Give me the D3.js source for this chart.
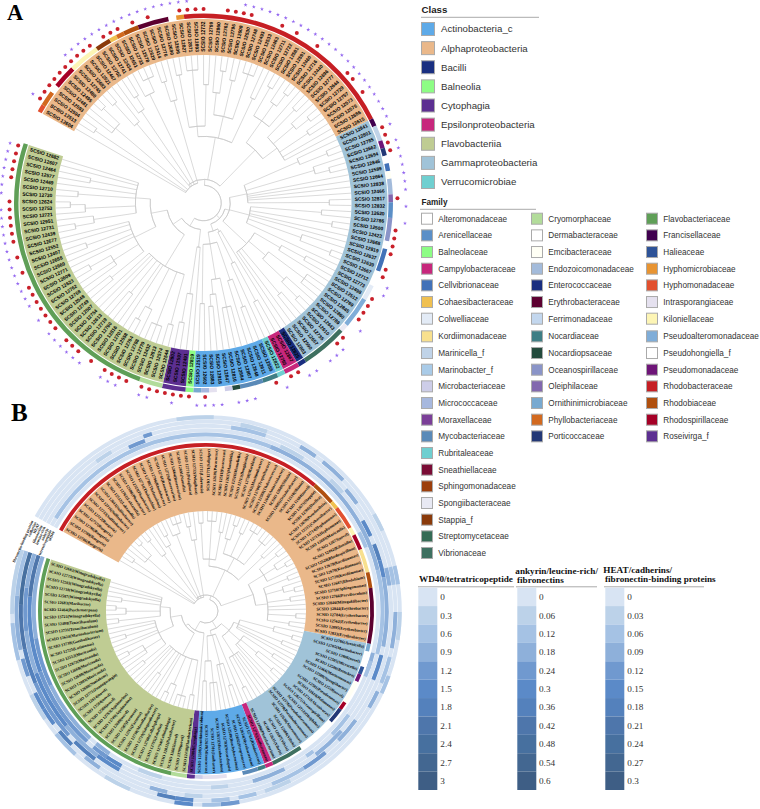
<!DOCTYPE html>
<html><head><meta charset="utf-8">
<script src="https://cdn.jsdelivr.net/npm/d3@7"></script>
<style>html,body{margin:0;background:#fff}svg{display:block}</style></head>
<body><svg id="c" width="760" height="809"></svg>
<script>
// ---------- data ----------
const classNames=["Actinobacteria_c","Alphaproteobacteria","Bacilli","Balneolia","Cytophagia","Epsilonproteobacteria","Flavobacteriia","Gammaproteobacteria","Verrucomicrobiae"];
const classColors=["#5eaae8","#eab88a","#1a2f80","#8dfd85","#5c2f91","#c7277c","#bfcc93","#a0c3d8","#6fcfd0"];
const familyNames=["Alteromonadaceae","Arenicellaceae","Balneolaceae","Campylobacteraceae","Cellvibrionaceae","Cohaesibacteraceae","Colwelliaceae","Kordiimonadaceae","Marinicella_f","Marinobacter_f","Microbacteriaceae","Micrococcaceae","Moraxellaceae","Mycobacteriaceae","Rubritaleaceae","Sneathiellaceae","Sphingomonadaceae","Spongiibacteraceae","Stappia_f","Streptomycetaceae","Vibrionaceae",
"Cryomorphaceae","Dermabacteraceae","Emcibacteraceae","Endozoicomonadaceae","Enterococcaceae","Erythrobacteraceae","Ferrimonadaceae","Nocardiaceae","Nocardiopsaceae","Oceanospirillaceae","Oleiphilaceae","Ornithinimicrobiaceae","Phyllobacteriaceae","Porticoccaceae",
"Flavobacteriaceae","Francisellaceae","Halieaceae","Hyphomicrobiaceae","Hyphomonadaceae","Intrasporangiaceae","Kiloniellaceae","Pseudoalteromonadaceae","Pseudohongiella_f","Pseudomonadaceae","Rhodobacteraceae","Rhodobiaceae","Rhodospirillaceae","Roseivirga_f"];
const familyColors=["#ffffff","#5b8fc7","#8dfd85","#c7277c","#4272b8","#f0c050","#e3ebf6","#f8e08e","#c0d3e8","#a9cbe8","#cdcde8","#a7b8de","#7b3f98","#5a8ab8","#6fcfd0","#7a0c35","#9c3f0c","#e8e9f3","#8a3a0a","#356b55","#3e7060",
"#b2dc9a","#ffffff","#fffff5","#a3bbdb","#1a2f80","#5c0030","#c3d7ee","#3f7e85","#234a3c","#8a94c8","#8268ae","#78a9d0","#d2691f","#233876",
"#5f9f57","#40004f","#2e5398","#e89432","#e2502f","#e5e1ef","#fdf5b5","#7fadd8","#ffffff","#6e1578","#c61f24","#b0500f","#a50026","#5c2f91"];
const familyColumnSizes=[21,14,14];

// panel A: clockwise leaf labels
const idsAlphaA=[12604,12513,12594,12593,12481,12495,12480,12745,12683,12521,12467,12702,12741,12434,12651,12733,12578,12629,12414,12776,12690,12506,12827,12871,12893,12732,12799,12860,12762,12796,12608,12530,12748,12493,12533,12463,12711,12722,12581,12591,12460,12716,12440,12696,12777,12644,12729,12757,12573,12576,12686,12615];
const idsGammaA=[12841,12801,12785,12662,12694,12846,12589,12664,12838,12466,12817,12832,12620,12786,12500,12423,12668,12819,12637,12639,12667,12712,12773,12498,12512,12769,12845,12860,12789,12643,12610,12735,12657,12590,12803];
const idsSmallA=[12825,12867,12793,12822];
const idsActinoA=[12555,12611,12648,12807,12884,12816,12847,12918,12883,12602,12519];
const idsBaseA=[12819,12491,12597,12802];
const idsFlavoA=[12682,12607,12464,12577,12469,12710,12730,12624,12753,12721,12951,12731,12439,12677,12552,12407,12688,12669,12771,12609,12623,12762,12768,12548,12749,12507,12754,12613,12719,12790,12816,12701,12558,12764,12788,12770,12432,12813,12574,12544].reverse();
const classRunsA=[["Alphaproteobacteria",52],["Gammaproteobacteria",35],["Bacilli",1],["Epsilonproteobacteria",2],["Verrucomicrobiae",1],["Actinobacteria_c",11],["Balneolia",1],["Cytophagia",3],["Flavobacteriia",40]];
const familyRunsA=[["Hyphomonadaceae",1],["Phyllobacteriaceae",2],["Alteromonadaceae",1],["Rhodospirillaceae",3],["Kiloniellaceae",4],["Stappia_f",2],["Cohaesibacteraceae",1],["Phyllobacteriaceae",1],["Rhodobiaceae",2],["Erythrobacteraceae",4],["Dermabacteraceae",1],["Hyphomicrobiaceae",1],["Rhodobacteraceae",29],
["Francisellaceae",1],["Marinicella_f",2],["Pseudomonadaceae",1],["Porticoccaceae",1],["Alteromonadaceae",1],["Cellvibrionaceae",1],["Emcibacteraceae",1],["Endozoicomonadaceae",2],["Oleiphilaceae",1],["Arenicellaceae",2],["Oceanospirillaceae",3],["Dermabacteraceae",1],["Cellvibrionaceae",3],["Pseudohongiella_f",2],["Colwelliaceae",2],["Pseudoalteromonadaceae",4],["Spongiibacteraceae",1],["Vibrionaceae",6],
["Enterococcaceae",1],["Campylobacteraceae",2],["Rubritaleaceae",1],["Nocardiaceae",2],["Mycobacteriaceae",3],["Nocardiopsaceae",1],["Microbacteriaceae",1],["Dermabacteraceae",1],["Intrasporangiaceae",1],["Micrococcaceae",1],["Ornithinimicrobiaceae",1],["Balneolaceae",1],["Roseivirga_f",3],["Cryomorphaceae",3],["Flavobacteriaceae",37]];
const redDotLeaves=[1,2,3,4,5,6,7,8,9,10,12,13,14,16,18,22,23,24,25,28,29,30,31,35,37,40,45,46,48,53,54,55,56,62,66,67,68,69,71,72,75,76,77,78,81,82,88,89,91,100,102,103,104,105,106,107,108,110,111,112,113,115,117,118,119,121,122,123,124,125,126,127,129,131,133,134,135,136,137,138,141,142,143,144,145];
const starLeaves=[1,7,8,9,10,11,12,13,14,15,16,17,18,19,20,21,22,23,30,31,32,33,34,35,36,37,38,39,40,41,42,43,44,45,46,47,48,49,50,51,52,53,55,56,57,58,59,60,61,63,65,73,74,79,82,83,84,86,87,90,94,95,96,98,99,100,101,104,107,108,111,112,113,116,117,118,119,120,121,123,125,126,127,128,129,130,131,132,133,134,135,136,137,139,140,141,142,143,144,145];
const treeA="((("+"*,(*,*)88,(*,*,(*,*)93)78,((*,*)90,*)70,(*,(*,*)85)75,(*,(*,*,*)92)82,((*,*)86,*)72)14,"
 +"(((*,*)88,(*,*,*)90,(*,*)80)52,((*,(*,*)90)75,(*,*)85,(*,*,*)92)60,(*,*)78)45,"
 +"(((*,*)90,(*,(*,*)92)82,*)68,((*,*)88,(*,(*,*)91)80,(*,*)85,*,*)62)50)16,"
 +"((((*,(*,*)90)70,(*,(*,*)88)78,*,*,*,*,(*,*)85)30,((*,*)80,(*,*)88,*,*,(*,(*,*)92)70,*)32,(((*,*)78,*)60,((*,*,*)85,(*,(*,*)90)75)55,(*,*)80,*,*)40)18,"
 +"((*,((*,*)75,*)45)22,(((*,*)75,*)55,((*,*,*)72,(*,(*,*)70)62)52,(*,*)68)28)20)15,"
 +"((*,(*,(*,*)82)62)30,(((*,*)85,(*,*,*)88,(*,(*,*)90)80,*,*,(*,*)78,*,*,*)50,(((*,*)80,(*,*,(*,*)88)72,*,*,(*,*)84,*,*)52,(((*,*)88,*)75,(*,(*,*)90)80,(*,*)85,*,(*,*)78,*,*)46)36)25)18)12";

// panel B: clockwise leaf labels
const leavesAlphaB=["12706 Ruegeria","12709 Ruegeria","12796 Ruegeria","12757 Ruegeria","12722 Ruegeria","12733 Sulfitobacter","12716 Sulfitobacter","12641 Sulfitobacter","12512 Loktanella","12762 Loktanella","12698 Phaeobacter","12723 Phaeobacter","12734 Thalassobius","12788 Thalassobius","12796 Rhodobacter","12741 Roseobacter","12729 Roseovarius","12664 Roseovarius","12691 Nautella","12771 Pelagibaca","12732 Pelagibaca","12715 Labrenzia","12771 Salipiger","12610 Paracoccus","12511 Paracoccus","12637 Mameliella","12516 Mameliella","12713 Donghicola","12708 Maribius","12702 Maritimibacter","12706 Tropicibacter","12508 Thalassococcus","12640 Antarctobacter","12689 Shimia","12685 Octadecabacter","12510 Shimia","12684 novel genus","12673 Stappia","12700 Hoeflea","12670 Pseudovibrio","12515 Cohaesibacter","12714 Hyphomonas","12713 Hyphomonas","12603 Maricaulis","12673 novel genus","12492 Kiloniella","12520 Rhodospirillum","12679 Kordiimonas","12670 Kordiimonas","12729 Kordiimonas","12687 Rhodobium","12718 Sphingomonas","12766 Parvibaculum","12846 Mizugakiibacter","12844 Erythrobacter","12784 Erythrobacter","12562 Erythrobacter","12895 Erythrobacter","12833 Erythrobacter"];
const leavesGammaB=["12786 Arenicella","12705 Marinobacter","12806 novel genus","12505 Microcella","12506 Reinekea","12466 Marinomonas","12580 Spongiibacter","12558 novel genus","12581 Pseudomonas","12618 Halomonas","12712 Alcanivorax","12627 Oceanospirillum","12712 Oleiphilus","12576 Pseudoalteromonas","12770 Pseudoalteromonas","12630 Alteromonas","12680 Vibrio","12607 Vibrio","12635 Vibrio","12480 Photobacterium"];
const leavesActinoB=["12792 Sulfurimonas","12761 Rhodococcus","12654 Mycobacterium","12692 Streptomyces","12549 Brachybacterium","12703 Nocardiopsis","12611 Microbacterium","12701 Janibacter","12619 Micrococcus","12598 Ornithinimicrobium","12804 Cytophaga"];
const leavesFlavoB=["12682 Winogradskyella","12773 Winogradskyella","12503 Winogradskyella","12718 Winogradskyella","12587 Winogradskyella","12683 Maribacter","12464 Psychroserpens","13721 Winogradskyella","12408 Tenacibaculum","12731 Tenacibaculum","13624 Marinobacterium","13738 Gaetbulibacter","12725 Lutimonas","12552 Muricauda","12673 Muricauda","12668 Muricauda","12688 Muricauda","12803 Muricauda","12688 Nonlabens","12771 Zunongwangia","12614 novel genus","13584 novel genus","12506 novel genus","12763 Aquimarina","12749 Aquimarina","12689 novel genus","12507 Formosa","12761 Formosa","12730 Mesoflavibacter","12729 Salegentibacter","12768 Cellulophaga","12795 Zobellia","12794 Cellulophaga","12812 Polaribacter","12665 novel genus","13709 novel genus","12438 Flavobacterium"].reverse();
const classRunsB=[["Alphaproteobacteria",59],["Gammaproteobacteria",20],["Epsilonproteobacteria",1],["Actinobacteria_c",9],["Cytophagia",1],["Flavobacteriia",37]];
const familyRunsB=[["Rhodobacteraceae",37],["Rhodobiaceae",3],["Cohaesibacteraceae",1],["Hyphomonadaceae",3],["Kiloniellaceae",1],["Rhodospirillaceae",2],["Kordiimonadaceae",3],["Rhodobiaceae",2],["Erythrobacteraceae",7],
["Ornithinimicrobiaceae",1],["Dermabacteraceae",2],["Halieaceae",1],["Pseudomonadaceae",1],["Emcibacteraceae",3],["Rhodospirillaceae",1],["Porticoccaceae",2],["Alteromonadaceae",5],["Vibrionaceae",4],
["Campylobacteraceae",1],["Nocardiaceae",1],["Mycobacteriaceae",2],["Dermabacteraceae",2],["Intrasporangiaceae",3],["Microbacteriaceae",1],["Roseivirga_f",1],["Cryomorphaceae",2],["Flavobacteriaceae",35]];
const treeB="((("+"*,(*,*)88,(*,*,(*,*)93)78,((*,*)90,*)70,(*,(*,*)85)75,(*,(*,*,*)92)82,((*,*)86,*)72)14,"
 +"(((*,*)88,(*,*,*)90,(*,*)80)52,((*,(*,*)90)75,(*,*)85,(*,*,*)92,(*,*,*)88)60,(*,*)78)45,"
 +"(((*,*)90,(*,(*,*)92)82,*)68,((*,*)88,(*,(*,*)91)80,(*,*)85,*,*,(*,*)90,(*,*)84)62)50)16,"
 +"((((*,(*,*)90)70,(*,*)82,*,*)35,((*,*)80,(*,(*,*)88)66,*,*)45,(*,*,*,*,(*,*)85)52)30,"
 +"(*,((*,*)78,*,*)55,((*,*,*)72,(*,*)70)50)25)20,"
 +"(*,(((*,*)85,(*,*,*)88,(*,(*,*)90)80,*,*,(*,*)78,*,*,*)50,(((*,*)80,(*,*,(*,*)88)72,*,*,(*,*)84,*,*)52,((*,*)88,(*,(*,*)90)80,(*,*)85,*,*,*)46)36)25)22)12";
// heat tracks, outer to inner: [first leaf, number of leaves, legend level]
const heatTrack0=[[19,4,1],[44,2,1],[50,2,2],[55,3,1],[62,2,2],[84,2,4],[86,2,2],[89,2,5],[96,3,1],[103,3,2],[108,3,1],[115,4,2],[120,7,1]];
const heatTrack1=[[26,3,1],[33,2,3],[36,3,3],[50,2,2],[55,4,3],[60,3,2],[64,2,3],[78,3,1],[82,2,2],[85,2,2],[89,2,5],[91,2,6],[100,2,3],[104,2,6],[107,2,5],[109,2,5],[113,2,4],[116,6,3],[122,5,2]];
const heatTrack2=[[9,2,1],[15,1,4],[25,4,2],[40,2,3],[50,2,3],[68,3,3],[73,3,4],[76,4,2],[88,2,1],[92,2,3],[101,3,6],[105,7,4],[112,4,6],[116,5,7],[121,6,8]];
const heatTrack3=[[13,2,4],[31,3,1],[38,2,1],[44,2,5],[47,2,6],[49,2,5],[51,8,3],[60,3,5],[70,4,3],[98,3,5],[101,5,3],[106,7,5],[113,5,3],[118,5,4],[123,4,3]];
const heatTrack4=[[1,30,2],[30,20,3],[50,10,2],[68,3,2],[74,1,2],[78,4,3],[85,2,1],[98,3,5],[100,2,4],[103,10,4],[113,9,5],[122,5,7]];
const heatTrack5=[[45,2,2],[60,2,3],[61,2,2],[93,3,1],[100,2,3],[103,8,3],[111,6,4],[117,10,3]];
const heatTracks=[heatTrack0,heatTrack1,heatTrack2,heatTrack3,heatTrack4,heatTrack5];
const trackLabels=["fibronectin-binding proteins","cadherins","HEAT","fibronectins","leucine-rich","ankyrin","tetratricopeptide","WD40"];
const heatColors=["#d8e4f3","#bcd2e9","#a5c2e4","#8eb0da","#7099cf","#5b8ac8","#5481bc","#4e76ab","#47709f","#436791","#3e5e85"];
const legendWD=["0","0.3","0.6","0.9","1.2","1.5","1.8","2.1","2.4","2.7","3"];
const legendAnk=["0","0.06","0.12","0.18","0.24","0.3","0.36","0.42","0.48","0.54","0.6"];
const legendHeat=["0","0.03","0.06","0.09","0.12","0.15","0.18","0.21","0.24","0.27","0.3"];

// ---------- helpers ----------
const svg=d3.select("#c");
svg.append("rect").attr("width",760).attr("height",809).attr("fill","#fff");
const SANS="'Liberation Sans',Arial,sans-serif", SERIF="'Liberation Serif','Times New Roman',serif";
const rad=d=>d*Math.PI/180;
const classColor=d3.scaleOrdinal(classNames,classColors);
const familyColor=d3.scaleOrdinal(familyNames,familyColors);
const heatColor=d3.scaleOrdinal(d3.range(11),heatColors);
function parseNewick(s){let i=0;
  function node(){
    if(s[i]==="*"){i++;return {d:100};}
    i++;const children=[node()];
    while(s[i]===","){i++;children.push(node());}
    i++;let n="";while(i<s.length&&/[0-9.]/.test(s[i]))n+=s[i++];
    return {d:+n,children};
  }
  return node();
}
function drawTree(g,src,angle,radiusAtLeaf){
  const root=d3.hierarchy(parseNewick(src));
  const r=d3.scaleLinear([0,100],[0,radiusAtLeaf]);
  root.leaves().forEach((l,i)=>{l.a=angle(i+.5);});
  root.eachAfter(n=>{if(n.children){n.a=(n.children[0].a+n.children[n.children.length-1].a)/2;}});
  const arc=d3.arc();
  const radial=d3.lineRadial().angle(p=>p[0]).radius(p=>p[1]);
  root.descendants().forEach(n=>{
    if(!n.children)return;
    const R=r(n.data.d);
    g.append("path").attr("d",arc({innerRadius:R,outerRadius:R,startAngle:n.children[0].a,endAngle:n.children[n.children.length-1].a}));
    n.children.forEach(c=>g.append("path").attr("d",radial([[c.a,R],[c.a,r(c.data.d)]])));
  });
  g.attr("fill","none").attr("stroke","#c6c6c6").attr("stroke-width",.65);
  return root.leaves().length;
}
function runsToArcs(g,runs,angle,r0,r1,colorOf){
  const arc=d3.arc().innerRadius(r0).outerRadius(r1);
  let pos=0;
  runs.forEach(([name,n])=>{
    g.append("path").attr("d",arc({startAngle:angle(pos),endAngle:angle(pos+n)})).attr("fill",colorOf(name));
    pos+=n;
  });
}
function leafLabels(g,labels,angle,R,fontSize,font,weight){
  g.selectAll("text").data(labels).join("text")
   .attr("transform",(t,i)=>{const a=angle(i+.5)*180/Math.PI;
     return a<180&&a>=0?`rotate(${a-90}) translate(${R},0)`:`rotate(${a+90}) translate(${-R},0)`;})
   .attr("text-anchor",(t,i)=>{const a=angle(i+.5)*180/Math.PI;return a<180&&a>=0?"end":"start";})
   .attr("dy",".35em").attr("font-family",font).attr("font-size",fontSize).attr("font-weight",weight).attr("fill","#000")
   .text(t=>t);
}

// ---------- panel A ----------
const idsA=[...idsAlphaA,...idsGammaA,...idsSmallA,...idsActinoA,...idsBaseA,...idsFlavoA];
const angleA=d3.scaleLinear([0,idsA.length],[rad(-61),rad(288.4)]);
const A=svg.append("g").attr("transform","translate(203.5,203)");
runsToArcs(A.append("g"),classRunsA,angleA,148,184,classColor);
runsToArcs(A.append("g"),familyRunsA,angleA,185,189.5,familyColor);
drawTree(A.append("g"),treeA,angleA,148);
leafLabels(A.append("g"),idsA.map(d=>"SCSIO "+d),angleA,181.5,4.9,SANS,700);
const polar=(i,r)=>d3.pointRadial(angleA(i+.5),r);
A.append("g").selectAll("circle").data(redDotLeaves).join("circle")
 .attr("cx",d=>polar(d,194)[0]).attr("cy",d=>polar(d,194)[1]).attr("r",2).attr("fill","#c9202a");
const star=d3.symbol(d3.symbolStar,5);
A.append("g").selectAll("path").data(starLeaves).join("path")
 .attr("d",star).attr("transform",d=>`translate(${polar(d,202.5)})`).attr("fill","#9468f0");

// ---------- panel B ----------
const leavesB=[...leavesAlphaB,...leavesGammaB,...leavesActinoB,...leavesFlavoB];
const angleB=d3.scaleLinear([0,leavesB.length],[rad(-61),rad(288.4)]);
const B=svg.append("g").attr("transform","translate(206,611)");
const trackR=d3.scaleLinear([0,heatTracks.length],[196,170]);
heatTracks.forEach((runs,k)=>{
  const t=B.append("g");
  const arc=d3.arc().innerRadius(trackR(k+1)+.2).outerRadius(trackR(k)-.2);
  t.append("path").attr("d",arc({startAngle:angleB(0),endAngle:angleB(127)})).attr("fill",heatColor(0));
  runs.forEach(([s,n,l])=>t.append("path").attr("d",arc({startAngle:angleB(s),endAngle:angleB(s+n)})).attr("fill",heatColor(l)));
});
runsToArcs(B.append("g"),classRunsB,angleB,100,163.3,classColor);
runsToArcs(B.append("g"),familyRunsB,angleB,164.2,168,familyColor);
drawTree(B.append("g"),treeB,angleB,100);
leafLabels(B.append("g"),leavesB.map(d=>{const [id,g]=d.split(" ");return `SCSIO ${id}(${g})`;}),angleB,162,4.1,SERIF,700);
const fanR=d3.scalePoint(trackLabels,[196,172]);
B.append("g").selectAll("text").data(trackLabels).join("text")
 .attr("transform",d=>{const p=d3.pointRadial(rad(-62.5),fanR(d));return `translate(${p}) rotate(-66)`;})
 .attr("text-anchor","end").attr("dy",".35em").attr("font-family",SERIF).attr("font-size",3.8).attr("font-weight",700).text(d=>d);

// ---------- legends ----------
const L=svg.append("g").attr("font-family",SANS);
L.append("text").attr("x",421.5).attr("y",12.5).attr("font-size",9.7).attr("font-weight",700).attr("fill","#222").text("Class");
L.append("line").attr("x1",421).attr("x2",539).attr("y1",17.3).attr("y2",17.3).attr("stroke","#aaa");
const classY=d3.scaleLinear([0,8],[29,182]);
classNames.forEach((n,i)=>{
  L.append("rect").attr("x",421.5).attr("y",classY(i)-6.5).attr("width",13).attr("height",13).attr("fill",classColors[i]).attr("stroke","#aaa");
  L.append("text").attr("x",441).attr("y",classY(i)).attr("dy",".35em").attr("font-size",9.7).attr("fill","#333").text(n);
});
L.append("text").attr("x",421.5).attr("y",205).attr("font-size",8.2).attr("font-weight",700).attr("fill","#222").text("Family");
L.append("line").attr("x1",420).attr("x2",536).attr("y1",209.3).attr("y2",209.3).attr("stroke","#aaa");
const famCol=[{s:421.5,t:438.3},{s:531.5,t:548.3},{s:646.5,t:663.3}];
const famY=d3.scaleLinear([0,20],[218.7,552]);
let famStart=0;
familyColumnSizes.forEach((size,c)=>{
  d3.range(size).forEach(i=>{
    const k=famStart+i, y=famY(i)+(i>=7?1:0);
    L.append("rect").attr("x",famCol[c].s).attr("y",y-5.5).attr("width",11).attr("height",11).attr("fill",familyColors[k]).attr("stroke","#aaa");
    L.append("text").attr("x",famCol[c].t).attr("y",y).attr("dy",".35em").attr("font-size",8.2).attr("fill","#333").text(familyNames[k]);
  });
  famStart+=size;
});
const H=svg.append("g").attr("font-family",SERIF);
const levelY=d3.scaleBand(d3.range(11),[587.7,790]);
[{x:418.3,t:440.3,u:[418,514],labels:legendWD,title:[["WD40/tetratricopeptide",419,582]]},
 {x:517.3,t:539,u:[516,597],labels:legendAnk,title:[["ankyrin/leucine-rich/",515.3,574],["fibronectins",517,583]]},
 {x:605.3,t:627.3,u:[604,704],labels:legendHeat,title:[["HEAT/cadherins/",603.3,573],["fibronectin-binding proteins",605,582]]}].forEach(o=>{
  o.title.forEach(([s,x,y])=>H.append("text").attr("x",x).attr("y",y).attr("font-size",9.2).attr("font-weight",700).attr("fill","#111").text(s));
  H.append("line").attr("x1",o.u[0]).attr("x2",o.u[1]).attr("y1",586.8).attr("y2",586.8).attr("stroke","#aaa");
  o.labels.forEach((s,i)=>{
    H.append("rect").attr("x",o.x).attr("y",levelY(i)).attr("width",19).attr("height",levelY.bandwidth()).attr("fill",heatColors[i]);
    H.append("text").attr("x",o.t).attr("y",levelY(i)+levelY.bandwidth()/2).attr("dy",".35em").attr("font-size",9.2).attr("fill","#333").text(s);
  });
});
svg.append("text").attr("x",7).attr("y",20).attr("font-family",SERIF).attr("font-size",22.5).attr("font-weight",700).text("A");
svg.append("text").attr("x",11).attr("y",421).attr("font-family",SERIF).attr("font-size",25).attr("font-weight",700).text("B");
</script></body></html>
